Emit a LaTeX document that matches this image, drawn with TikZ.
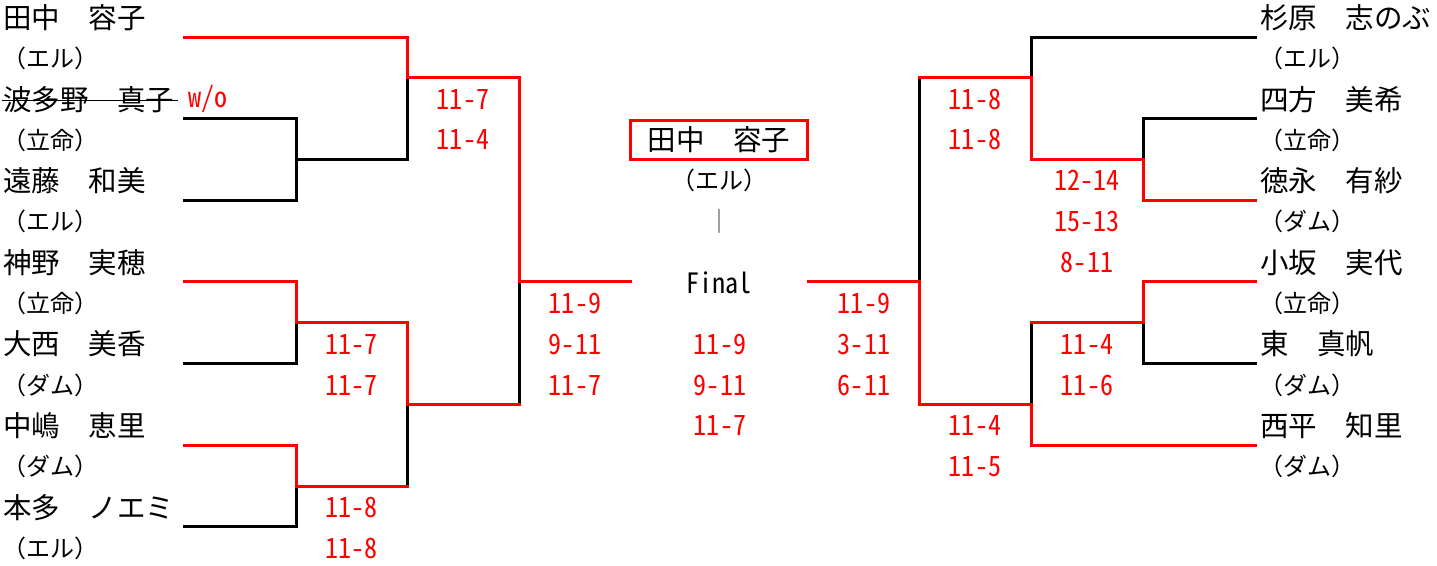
\documentclass[tikz,border=0pt]{standalone}
\usepackage{fontspec}
\newfontfamily\jpfont{Noto Sans CJK JP}
\newfontfamily\hwfont[RawFeature=+hwid, FakeStretch=0.93]{Noto Sans CJK JP}
\tikzset{
  bk/.style={draw=black, line width=3pt, line cap=rect, line join=miter},
  rd/.style={draw=red, line width=3pt, line cap=rect, line join=miter},
  jpname/.style={font=\jpfont\fontsize{28.5pt}{30pt}\selectfont, inner sep=0pt, text=black},
  player/.style={jpname, anchor=west},
  jpclub/.style={font=\jpfont\fontsize{24pt}{26pt}\selectfont, inner sep=0pt, text=black},
  club/.style={jpclub, anchor=west},
  score/.style={font=\hwfont\fontsize{28pt}{30pt}\selectfont, text=red, inner sep=0pt},
}
\begin{document}
\begin{tikzpicture}[x=1pt, y=-1pt]
\useasboundingbox (0,0) rectangle (1437,565);
% grid of bracket points
\foreach \i/\xx in {0/184,1/296,2/407,3/519,4/630,5/808,6/919,7/1031,8/1143,9/1255}{
  \foreach \k in {0,...,12}{
    \coordinate (p\i-\k) at (\xx,{37+40.83*\k});
  }
}
% ---------- left half ----------
\draw[bk] (p0-2) -- (p1-2) -- (p1-4) -- (p0-4);
\draw[bk] (p1-3) -- (p2-3) -- (p2-1);
\draw[bk] (p3-6) -- (p3-9);
\draw[bk] (p1-7) -- (p1-8) -- (p0-8);
\draw[bk] (p2-9) -- (p2-11);
\draw[bk] (p1-11) -- (p1-12) -- (p0-12);
\draw[rd] (p0-0) -- (p2-0) -- (p2-1) -- (p3-1) -- (p3-6) -- (p4-6);
\draw[rd] (p0-6) -- (p1-6) -- (p1-7) -- (p2-7) -- (p2-9) -- (p3-9);
\draw[rd] (p0-10) -- (p1-10) -- (p1-11) -- (p2-11);
% ---------- right half ----------
\draw[bk] (p9-0) -- (p7-0) -- (p7-1);
\draw[bk] (p9-2) -- (p8-2) -- (p8-3);
\draw[bk] (p6-1) -- (p6-6);
\draw[bk] (p7-7) -- (p7-9);
\draw[bk] (p8-7) -- (p8-8) -- (p9-8);
\draw[rd] (p6-1) -- (p7-1) -- (p7-3) -- (p8-3) -- (p8-4) -- (p9-4);
\draw[rd] (p5-6) -- (p6-6) -- (p6-9) -- (p7-9) -- (p7-10) -- (p9-10);
\draw[rd] (p7-7) -- (p8-7) -- (p8-6) -- (p9-6);
% ---------- left names ----------
\node[player] (L0) at (3,17.5) {田中　容子};
\node[club]   (L1) at (2,58.3) {（エル）};
\node[player] (L2) at (3,99.2) {波多野　真子};
\node[club]   (L3) at (2,140) {（立命）};
\node[player] (L4) at (3,180.8) {遠藤　和美};
\node[club]   (L5) at (2,221.7) {（エル）};
\node[player] (L6) at (3,262.5) {神野　実穂};
\node[club]   (L7) at (2,303.3) {（立命）};
\node[player] (L8) at (3,344.1) {大西　美香};
\node[club]   (L9) at (2,385) {（ダム）};
\node[player] (L10) at (3,425.8) {中嶋　恵里};
\node[club]   (L11) at (2,466.6) {（ダム）};
\node[player] (L12) at (3,507.5) {本多　ノエミ};
\node[club]   (L13) at (2,548.3) {（エル）};
\draw[line width=1pt] ([xshift=-1pt,yshift=-1.5pt]L2.west) -- ([xshift=4pt,yshift=-1.5pt]L2.east);
\node[score, anchor=west] (wo) at (188,99.2) {w/o};
% ---------- right names ----------
\node[player] (R0) at (1260,17.5) {杉原　志のぶ};
\node[club]   (R1) at (1259,58.3) {（エル）};
\node[player] (R2) at (1260,99.2) {四方　美希};
\node[club]   (R3) at (1259,140) {（立命）};
\node[player] (R4) at (1260,180.8) {徳永　有紗};
\node[club]   (R5) at (1259,221.7) {（ダム）};
\node[player] (R6) at (1260,262.5) {小坂　実代};
\node[club]   (R7) at (1259,303.3) {（立命）};
\node[player] (R8) at (1260,344.1) {東　真帆};
\node[club]   (R9) at (1259,385) {（ダム）};
\node[player] (R10) at (1260,425.8) {西平　知里};
\node[club]   (R11) at (1259,466.6) {（ダム）};
% ---------- centre ----------
\node[jpname, draw=red, line width=3pt, minimum width=177pt, minimum height=39pt] (champ) at (719,140) {田中　容子};
\node[jpclub] (champclub) at (719,180.8) {（エル）};
\node[jpclub, text=black!75] (bar) at (719,221.7) {｜};
\node[score, text=black] (final) at (719,283) {Final};
% ---------- scores ----------
\node[score] (sa1) at (351.5,344.1) {11-7};
\node[score] (sa2) at (351.5,385) {11-7};
\node[score] (sa3) at (351.5,507.5) {11-8};
\node[score] (sa4) at (351.5,548.3) {11-8};
\node[score] (sb1) at (463,99.2) {11-7};
\node[score] (sb2) at (463,140) {11-4};
\node[score] (sc1) at (575,303.3) {11-9};
\node[score] (sc2) at (575,344.1) {9-11};
\node[score] (sc3) at (575,385) {11-7};
\node[score] (sd1) at (720,344.1) {11-9};
\node[score] (sd2) at (720,385) {9-11};
\node[score] (sd3) at (720,425.8) {11-7};
\node[score] (se1) at (864,303.3) {11-9};
\node[score] (se2) at (864,344.1) {3-11};
\node[score] (se3) at (864,385) {6-11};
\node[score] (sf1) at (975,99.2) {11-8};
\node[score] (sf2) at (975,140) {11-8};
\node[score] (sf3) at (975,425.8) {11-4};
\node[score] (sf4) at (975,466.6) {11-5};
\node[score] (sg1) at (1087,180.8) {12-14};
\node[score] (sg2) at (1087,221.7) {15-13};
\node[score] (sg3) at (1087,262.5) {8-11};
\node[score] (sg4) at (1087,344.1) {11-4};
\node[score] (sg5) at (1087,385) {11-6};
\end{tikzpicture}
\end{document}
